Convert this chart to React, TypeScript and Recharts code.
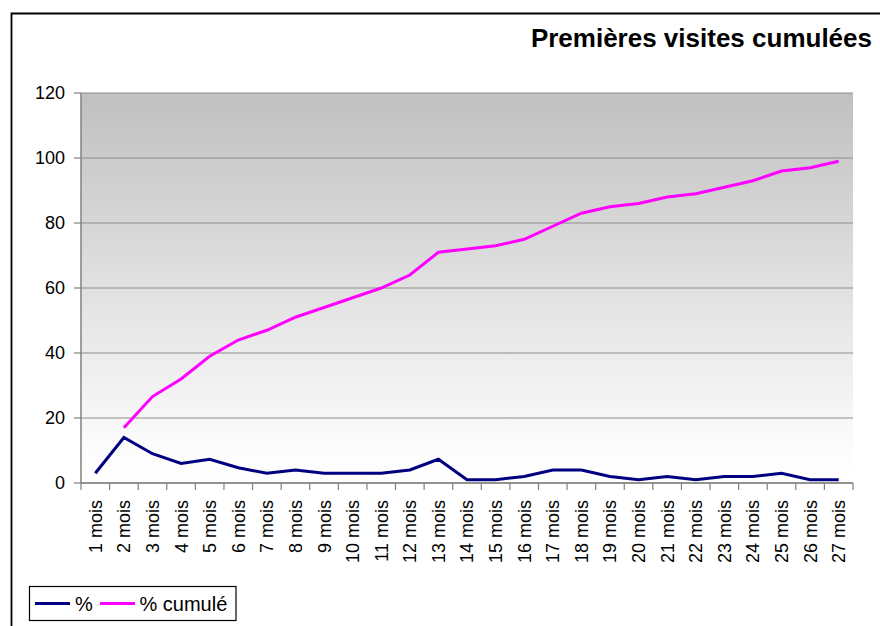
import React from "react";
import {
  LineChart,
  Line,
  XAxis,
  YAxis,
  CartesianGrid,
} from "recharts";

const months = [
  "1 mois", "2 mois", "3 mois", "4 mois", "5 mois", "6 mois", "7 mois", "8 mois", "9 mois",
  "10 mois", "11 mois", "12 mois", "13 mois", "14 mois", "15 mois", "16 mois", "17 mois",
  "18 mois", "19 mois", "20 mois", "21 mois", "22 mois", "23 mois", "24 mois", "25 mois",
  "26 mois", "27 mois",
];

const pct = [3, 14, 9, 6, 7.3, 4.7, 3, 4, 3, 3, 3, 4, 7.3, 1, 1, 2, 4, 4, 2, 1, 2, 1, 2, 2, 3, 1, 1];

const cumul: (number | null)[] = [
  null, 17, 26.6, 32, 39, 44, 47, 51, 54, 57, 60, 64, 71, 72, 73, 75, 79, 83, 85, 86, 88, 89, 91, 93, 96, 97, 99,
];

const yTicks = [0, 20, 40, 60, 80, 100, 120];

const title = "Premières visites cumulées";
const seriesNames = ["%", "% cumulé"];

const data = months.map((m, i) => ({ month: m, pct: pct[i], cumul: cumul[i] }));

const FONT = "'Liberation Sans', Arial, sans-serif";
const W = 880;
const H = 626;
const M = { top: 93, right: 27, left: 11, bottom: 43 };
const YW = 70;
const XH = 100;
const BAND = (W - M.left - YW - M.right) / months.length;

const XTick = (props: any) => {
  const { x, y, payload, index } = props;
  const last = index === months.length - 1;
  return (
    <g>
      <line x1={x - BAND / 2} x2={x - BAND / 2} y1={y} y2={y + 7} stroke="#808080" strokeWidth={1.2} />
      {last && (
        <line x1={x + BAND / 2} x2={x + BAND / 2} y1={y} y2={y + 7} stroke="#808080" strokeWidth={1.2} />
      )}
      <text
        x={0}
        y={0}
        transform={`translate(${x},${y + 17}) rotate(-90)`}
        textAnchor="end"
        dy="0.36em"
        fontSize={18}
        fontFamily={FONT}
        fill="#000"
      >
        {payload.value}
      </text>
    </g>
  );
};

export default function App() {
  return (
    <div style={{ position: "absolute", left: 0, top: 0, width: W, height: H, background: "#fff", overflow: "hidden" }}>
      <LineChart width={W} height={H} data={data} margin={M}>
        <defs>
          <linearGradient id="bgGrad" x1="0" y1="0" x2="0" y2="1">
            <stop offset="0" stopColor="#c0c0c0" />
            <stop offset="0.91" stopColor="#fcfcfc" />
            <stop offset="1" stopColor="#ffffff" />
          </linearGradient>
        </defs>
        <path d={`M11.5,${H} V13.5 H${W}`} fill="none" stroke="#000" strokeWidth={1.8} />
        <text x={872} y={46.5} textAnchor="end" fontSize={26} fontWeight="bold" fontFamily={FONT} fill="#000">
          {title}
        </text>
        <CartesianGrid vertical={false} stroke="#8c8c8c" strokeWidth={1} fill="url(#bgGrad)" fillOpacity={1} />
        <XAxis
          dataKey="month"
          height={XH}
          interval={0}
          padding={{ left: BAND / 2, right: BAND / 2 }}
          tickLine={false}
          tickSize={0}
          tickMargin={0}
          axisLine={{ stroke: "#808080", strokeWidth: 1.5 }}
          tick={<XTick />}
        />
        <YAxis
          width={YW}
          domain={[0, 120]}
          ticks={yTicks}
          interval={0}
          tickSize={7}
          tickMargin={9}
          tickLine={{ stroke: "#808080", strokeWidth: 1.2 }}
          axisLine={{ stroke: "#808080", strokeWidth: 1.5 }}
          tick={{ fontSize: 18, fontFamily: FONT, fill: "#000" }}
        />
        <YAxis
          yAxisId="frame"
          orientation="right"
          width={0}
          domain={[0, 120]}
          tick={false}
          tickLine={false}
          axisLine={{ stroke: "#8c8c8c", strokeWidth: 1.5 }}
        />
        <Line
          type="linear"
          dataKey="pct"
          name={seriesNames[0]}
          stroke="#000080"
          strokeWidth={3}
          dot={false}
          isAnimationActive={false}
        />
        <Line
          type="linear"
          dataKey="cumul"
          name={seriesNames[1]}
          stroke="#ff00ff"
          strokeWidth={3}
          dot={false}
          isAnimationActive={false}
        />
        <g>
          <rect x={29.5} y={586.5} width={206.5} height={34} fill="#fff" stroke="#000" strokeWidth={1.2} />
          <line x1={35} x2={70} y1={603.5} y2={603.5} stroke="#000080" strokeWidth={3} />
          <text x={75} y={610.5} fontSize={20} fontFamily={FONT} fill="#000">{seriesNames[0]}</text>
          <line x1={100} x2={135} y1={603.5} y2={603.5} stroke="#ff00ff" strokeWidth={3} />
          <text x={139.5} y={610.5} fontSize={20} fontFamily={FONT} fill="#000">{seriesNames[1]}</text>
        </g>
      </LineChart>
    </div>
  );
}
